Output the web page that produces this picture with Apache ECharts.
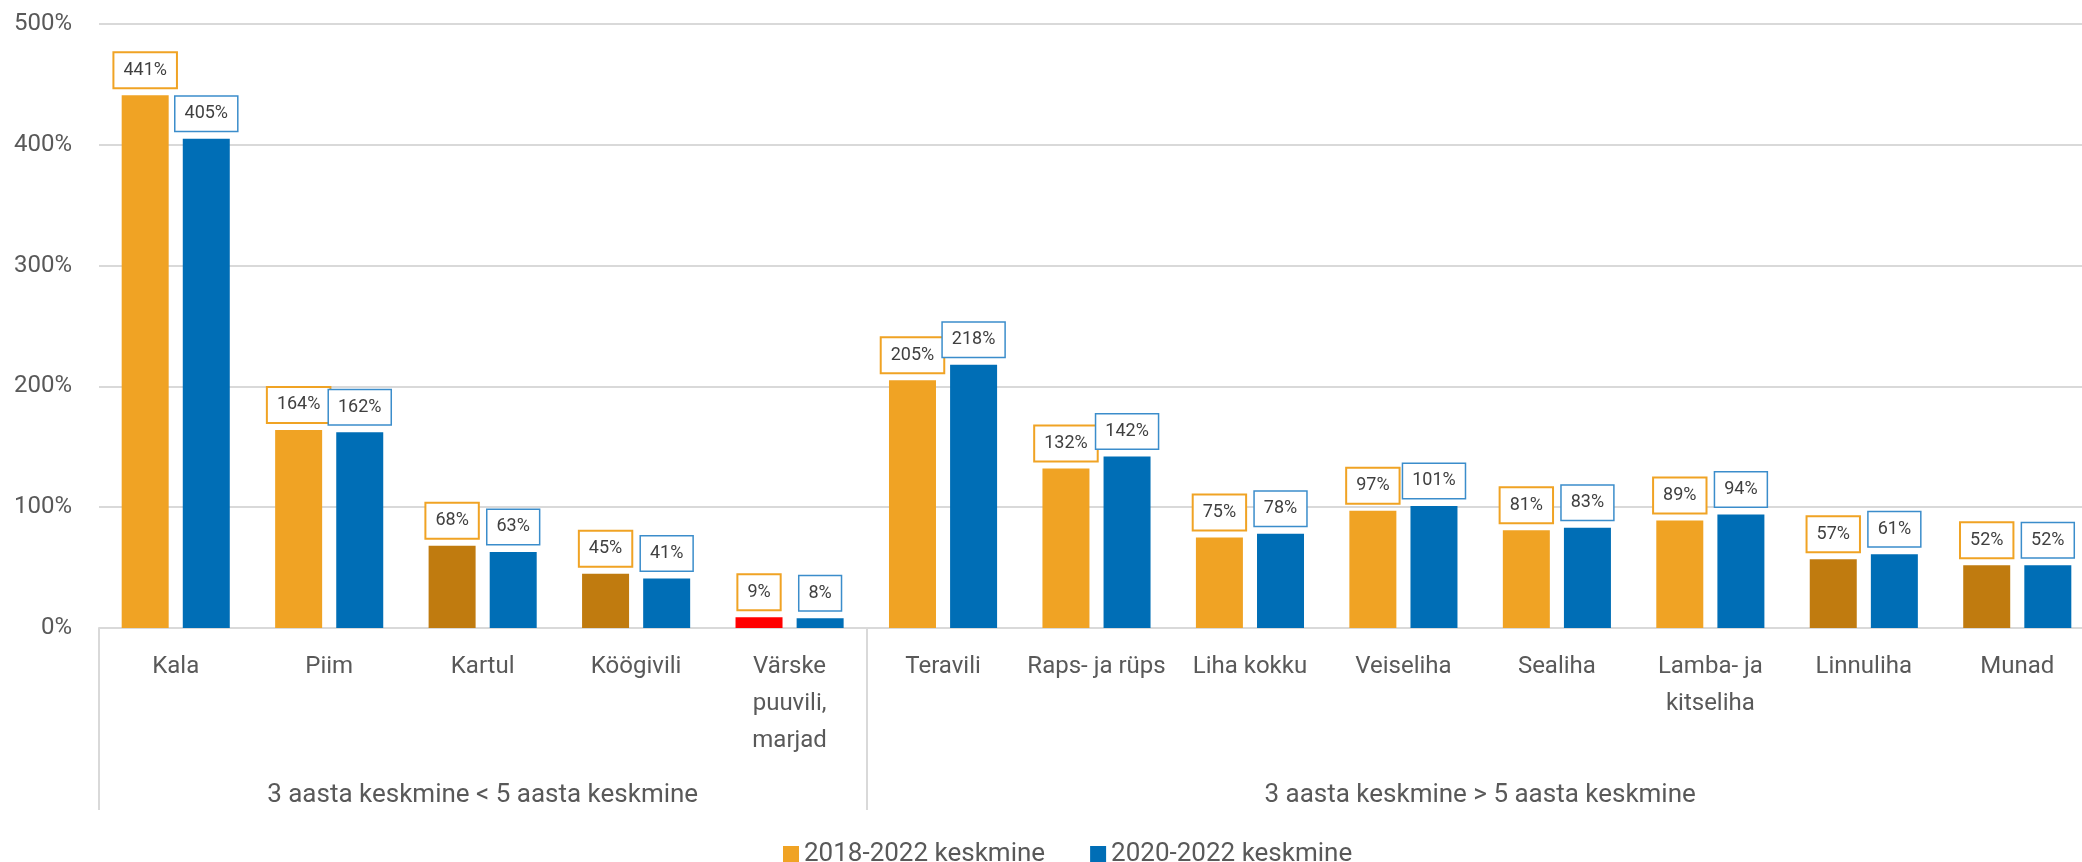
<!DOCTYPE html>
<html>
<head>
<meta charset="utf-8">
<script src="https://cdn.jsdelivr.net/npm/echarts@6/dist/echarts.min.js"></script>
<style>
  html, body { margin: 0; padding: 0; background: #fff; }
  #chart { width: 2082px; height: 862px; }
</style>
</head>
<body>
<div id="chart"></div>
<script>
// kategooriad ja väärtused
const categories = ['Kala', 'Piim', 'Kartul', 'Köögivili', 'Värske\npuuvili,\nmarjad',
  'Teravili', 'Raps- ja rüps', 'Liha kokku', 'Veiseliha', 'Sealiha', 'Lamba- ja\nkitseliha', 'Linnuliha', 'Munad'];
const avg2018_2022 = [441, 164, 68, 45, 9, 205, 132, 75, 97, 81, 89, 57, 52];
const avg2020_2022 = [405, 162, 63, 41, 8, 218, 142, 78, 101, 83, 94, 61, 52];
const seriesNames = ['2018-2022 keskmine', '2020-2022 keskmine'];
const groupNames = ['3 aasta keskmine < 5 aasta keskmine', '3 aasta keskmine > 5 aasta keskmine'];
const groupSizes = [5, 8];
const yTicks = [0, 100, 200, 300, 400, 500];

// värvid
const ORANGE = '#F0A324';
const BROWN = '#C07B0F';
const RED = '#FF0000';
const BLUE = '#006EB6';
const brownIdx = [2, 3, 11, 12];
const redIdx = [4];

// grupitelje jaoks poolsammudega punktid (piirid ja keskkohad)
const halfSteps = [];
const tickIdx = [0];
let pos = 0;
groupSizes.forEach(function (n, g) {
  for (let i = 0; i < n * 2; i++) halfSteps.push('');
  halfSteps[pos + n] = groupNames[g];
  pos += n * 2;
  tickIdx.push(pos);
});
halfSteps.push('');

const chart = echarts.init(document.getElementById('chart'));

const orangeData = avg2018_2022.map(function (v, i) {
  let c = null;
  if (brownIdx.indexOf(i) >= 0) c = BROWN;
  if (redIdx.indexOf(i) >= 0) c = RED;
  return c ? { value: v, itemStyle: { color: c } } : v;
});

const labelBase = {
  show: true,
  position: 'top',
  distance: 8,
  formatter: '{c}%',
  fontFamily: 'Roboto',
  fontSize: 18,
  lineHeight: 20,
  color: '#404040',
  backgroundColor: '#fff',
  padding: [7, 9]
};

const option = {
  animation: false,
  textStyle: { fontFamily: 'Roboto' },
  // joonis on paremalt ära lõigatud, seepärast laius üle serva
  grid: { left: 99, width: 1995, top: 24, bottom: 234, containLabel: false, outerBoundsMode: 'none' },
  legend: {
    data: seriesNames,
    left: 778,
    top: 836,
    icon: 'rect',
    itemWidth: 16,
    itemHeight: 16,
    itemGap: 45,
    textStyle: { fontSize: 26, color: '#595959', fontFamily: 'Roboto' }
  },
  xAxis: [
    {
      type: 'category',
      data: categories,
      axisLine: { lineStyle: { color: '#d9d9d9', width: 2 } },
      axisTick: { show: false },
      axisLabel: {
        interval: 0,
        margin: 20,
        fontSize: 24,
        lineHeight: 37,
        color: '#595959',
        fontFamily: 'Roboto'
      }
    },
    {
      type: 'category',
      position: 'bottom',
      data: halfSteps,
      boundaryGap: false,
      axisLine: { show: false },
      axisTick: {
        show: true,
        length: 182,
        interval: function (i) { return tickIdx.indexOf(i) >= 0; },
        lineStyle: { color: '#d9d9d9', width: 2 }
      },
      axisLabel: {
        interval: 0,
        margin: 154,
        fontSize: 26,
        color: '#595959',
        fontFamily: 'Roboto'
      }
    }
  ],
  yAxis: {
    type: 'value',
    min: yTicks[0],
    max: yTicks[yTicks.length - 1],
    interval: yTicks[1] - yTicks[0],
    axisLine: { show: false },
    axisTick: { show: false },
    splitLine: { lineStyle: { color: '#d9d9d9', width: 2 } },
    axisLabel: {
      formatter: '{value}%',
      fontSize: 24,
      color: '#595959',
      margin: 27,
      fontFamily: 'Roboto'
    }
  },
  series: [
    {
      name: seriesNames[0],
      type: 'bar',
      xAxisIndex: 0,
      barWidth: 47,
      barGap: '30%',
      itemStyle: { color: ORANGE },
      label: Object.assign({}, labelBase, { borderColor: ORANGE, borderWidth: 2 }),
      data: orangeData
    },
    {
      name: seriesNames[1],
      type: 'bar',
      xAxisIndex: 0,
      barWidth: 47,
      barGap: '30%',
      itemStyle: { color: BLUE },
      label: Object.assign({}, labelBase, { borderColor: '#3B8DCB', borderWidth: 1.5 }),
      data: avg2020_2022
    }
  ]
};

chart.setOption(option);
</script>
</body>
</html>
